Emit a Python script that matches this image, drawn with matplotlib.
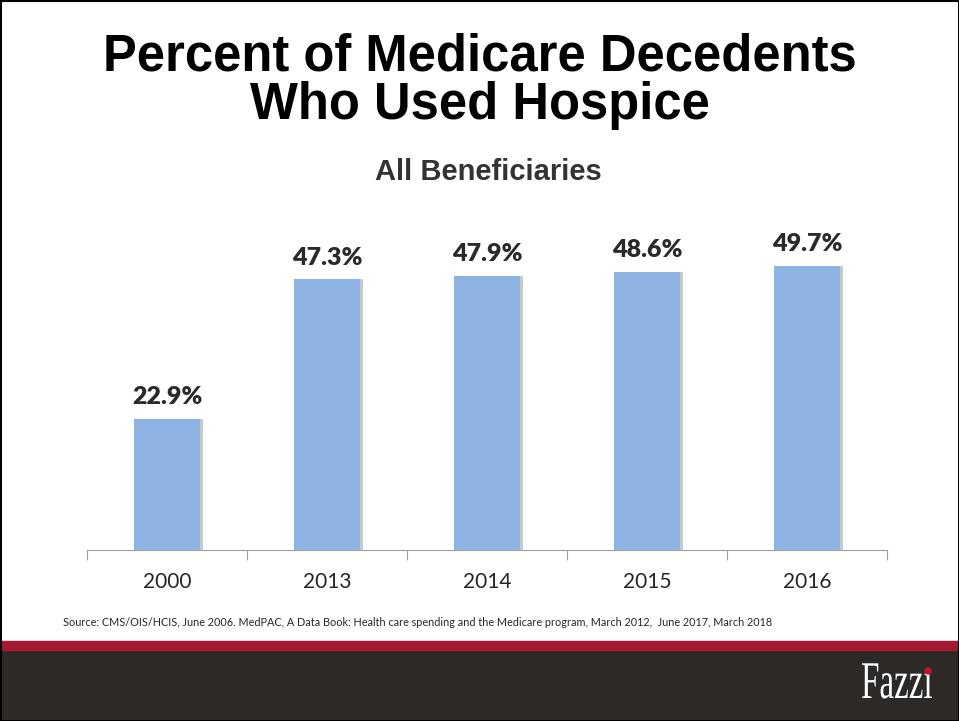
import matplotlib.pyplot as plt
from matplotlib.patches import Rectangle, Ellipse, PathPatch
from matplotlib.textpath import TextPath
from matplotlib.font_manager import FontProperties
from matplotlib.transforms import Affine2D

years = ['2000', '2013', '2014', '2015', '2016']
pct = [22.9, 47.3, 47.9, 48.6, 49.7]
labels = ['22.9%', '47.3%', '47.9%', '48.6%', '49.7%']

W, H = 959, 721
fig = plt.figure(figsize=(W / 100, H / 100), dpi=100)

# bottom bands and border
fig.patches.append(Rectangle((0, 0), 1, 71 / H, transform=fig.transFigure,
                             color='#2d2926', zorder=0))
fig.patches.append(Rectangle((0, 71 / H), 1, 9 / H, transform=fig.transFigure,
                             color='#a51931', zorder=0))
fig.patches.append(Rectangle((0.5 / W, 0.5 / H), 1 - 1 / W, 1 - 1 / H,
                             transform=fig.transFigure, fill=False,
                             edgecolor='black', linewidth=1.5, zorder=5))

# chart area: x 87..887, baseline y=550, top y=200
ax = fig.add_axes([87 / W, (H - 550) / H, 800 / W, 350 / H])
bars = ax.bar(range(len(years)), pct, width=0.41, color='#8db3e2', zorder=2)
# soft shadow on right side of bars
ax.bar([i + 0.215 for i in range(len(years))], pct, width=0.02,
       color='#c8c8c8', zorder=1)
ax.set_xlim(-0.5, len(years) - 0.5)
ax.set_ylim(0, 61.2)
for i, (v, lab) in enumerate(zip(pct, labels)):
    ax.text(i, v + 1.9, lab, ha='center', va='bottom', fontsize=18,
            fontweight='heavy', color='#2a2a2a', family='Lato')

for s in ['top', 'right', 'left']:
    ax.spines[s].set_visible(False)
ax.spines['bottom'].set_color('#a0a0a0')
ax.set_yticks([])
ax.set_xticks([i - 0.5 for i in range(len(years) + 1)], minor=False)
ax.set_xticklabels([])
ax.tick_params(axis='x', length=7, color='#a0a0a0')
for i, y in enumerate(years):
    ax.text(i, -0.09, y, transform=ax.get_xaxis_transform(), ha='center',
            va='center', fontsize=15, color='#262626', family='Lato')

fig.text(0.5, 1 - 57 / H, 'Percent of Medicare Decedents',
         ha='center', va='center', fontsize=36.5, fontweight='bold',
         family='Liberation Sans', color='black')
fig.text(0.5, 1 - 105 / H, 'Who Used Hospice',
         ha='center', va='center', fontsize=36.5, fontweight='bold',
         family='Liberation Sans', color='black')
fig.text(488 / W, 1 - 172 / H, 'All Beneficiaries', ha='center', va='center',
         fontsize=21, fontweight='bold', family='Liberation Sans',
         color='#333333')
fig.text(63 / W, 1 - 623 / H,
         'Source: CMS/OIS/HCIS, June 2006. MedPAC, A Data Book: Health care '
         'spending and the Medicare program, March 2012,  June 2017, March 2018',
         ha='left', va='center', fontsize=7.8, family='Lato', color='#262626')

# Fazzi logo: condensed serif, dotless i with red dot
tp = TextPath((0, 0), 'Fazz\u0131', size=53,
              prop=FontProperties(family='Liberation Serif'))
bb = tp.get_extents()
sx = 70 / bb.width
logo_tf = (Affine2D().translate(-bb.x0, 0).scale(sx, 1).translate(862, H - 698)
           + Affine2D().scale(1 / W, 1 / H) + fig.transFigure)
fig.patches.append(PathPatch(tp, transform=logo_tf, facecolor='white',
                             edgecolor='none', zorder=6))
fig.patches.append(Ellipse((928 / W, 1 - 671 / H), 6 / W, 6 / H,
                           transform=fig.transFigure, color='#c0102a',
                           zorder=6))

fig.savefig('out.png', dpi=100)
